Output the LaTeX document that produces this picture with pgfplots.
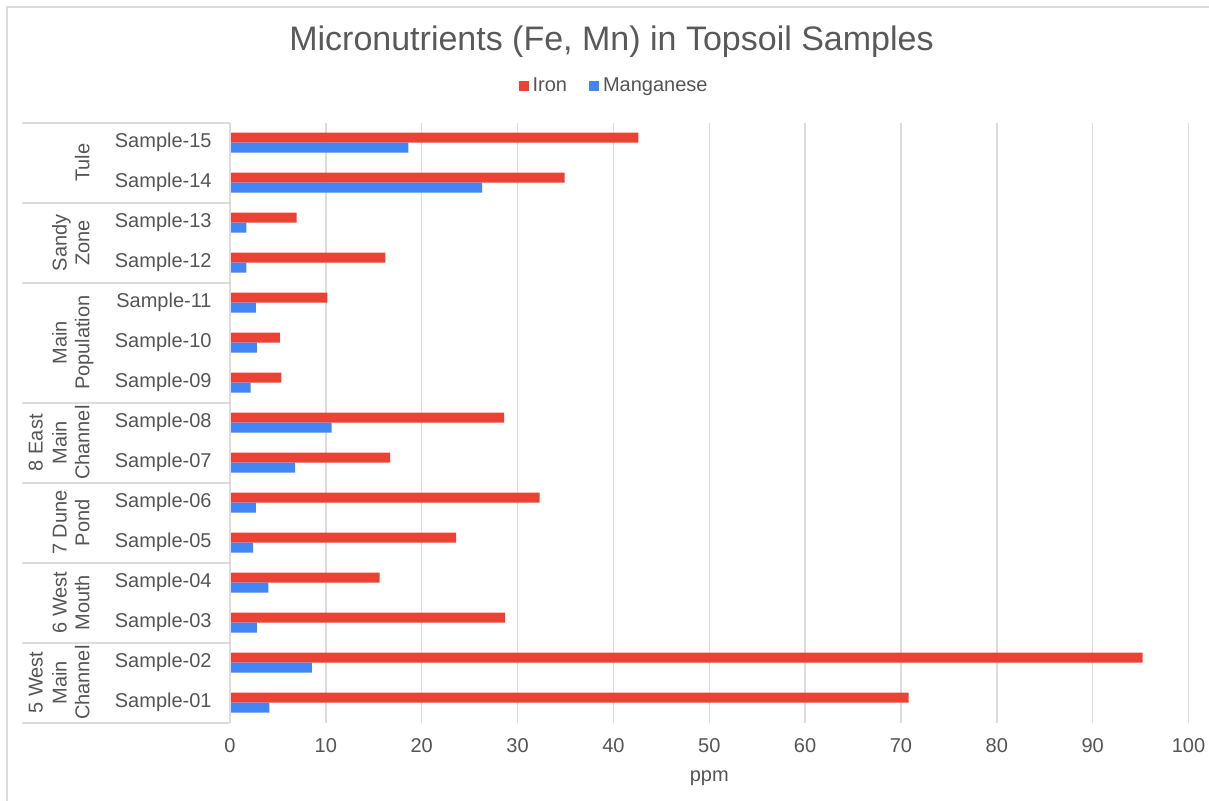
\documentclass[border=0pt]{standalone}
\usepackage{fontspec}
\setmainfont{Liberation Sans}
\usepackage{pgfplots}
\pgfplotsset{compat=1.18}
\definecolor{ironc}{HTML}{EA4335}
\definecolor{mnc}{HTML}{4285F4}
\definecolor{gridc}{HTML}{DCDCDC}
\definecolor{txt}{HTML}{555555}
\definecolor{ttl}{HTML}{595959}
\begin{document}
\begin{tikzpicture}
\useasboundingbox (0,0) rectangle (604.5pt,400.5pt);
\fill[white] (0,0) rectangle (604.5pt,400.5pt);
\draw[gridc, line width=0.9pt] (3.4pt,0) -- (3.4pt,397.1pt) -- (604.5pt,397.1pt);
\node[anchor=base, font=\fontsize{17}{20}\selectfont, text=ttl, inner sep=0pt] at (305.75pt,375pt) {Micronutrients (Fe, Mn) in Topsoil Samples};
\begin{axis}[
  at={(115pt,39.15pt)}, anchor=south west,
  scale only axis, width=479.25pt, height=300pt,
  xbar, bar width=5pt,
  xmin=0, xmax=100, ymin=0.5, ymax=15.5,
  xtick={0,10,...,100},
  ytick={1,...,15},
  yticklabels={Sample-01,Sample-02,Sample-03,Sample-04,Sample-05,Sample-06,Sample-07,Sample-08,Sample-09,Sample-10,Sample-11,Sample-12,Sample-13,Sample-14,Sample-15},
  axis line style={draw=none},
  major tick length=0pt,
  xmajorgrids, grid style={gridc, line width=0.75pt},
  tick label style={font=\fontsize{10}{12}\selectfont, text=txt},
  /pgf/number format/assume math mode=true,
  xticklabel style={anchor=north, inner sep=0pt, yshift=-7.6pt},
  yticklabel style={anchor=east, inner sep=0pt, xshift=-9pt},
  xlabel={ppm},
  xlabel style={at={(axis description cs:0.5,0)}, anchor=base, inner sep=0pt, yshift=-29.6pt, font=\fontsize{10}{12}\selectfont, text=txt},
  clip=false,
  legend columns=2,
  legend style={at={(0.4017,1.0612)}, anchor=center, draw=none, fill=none, inner sep=0pt,
    font=\fontsize{10}{12}\selectfont, text=txt,
    /tikz/every even column/.append style={column sep=9pt}},
  legend image code/.code={\fill[#1] (0pt,-2.6pt) rectangle (5pt,2.6pt);},
]
\addplot[draw=none, fill=ironc, bar shift=2.5pt] coordinates {
 (70.8,1) (95.2,2) (28.7,3) (15.6,4) (23.6,5) (32.3,6) (16.7,7) (28.6,8)
 (5.35,9) (5.2,10) (10.15,11) (16.2,12) (6.95,13) (34.9,14) (42.6,15)};
\addplot[draw=none, fill=mnc, bar shift=-2.5pt] coordinates {
 (4.1,1) (8.55,2) (2.8,3) (4.0,4) (2.4,5) (2.7,6) (6.8,7) (10.6,8)
 (2.15,9) (2.8,10) (2.7,11) (1.7,12) (1.7,13) (26.3,14) (18.6,15)};
\legend{Iron,Manganese}
\draw[gridc, line width=0.9pt] (axis cs:0,0.5) -- (axis cs:0,15.5);
\pgfplotsinvokeforeach{0.5,2.5,4.5,6.5,8.5,11.5,13.5,15.5}{
  \draw[gridc, line width=0.9pt] (axis cs:-21.7,#1) -- (axis cs:0,#1);
}
\tikzset{grp/.style={rotate=90, anchor=base, inner sep=0pt, font=\fontsize{10}{12}\selectfont, text=txt}}
\node[grp] at (axis cs:-19.54,1.5) {5 West};
\node[grp] at (axis cs:-17.04,1.5) {Main};
\node[grp] at (axis cs:-14.68,1.5) {Channel};
\node[grp] at (axis cs:-17.04,3.5) {6 West};
\node[grp] at (axis cs:-14.68,3.5) {Mouth};
\node[grp] at (axis cs:-17.04,5.5) {7 Dune};
\node[grp] at (axis cs:-14.68,5.5) {Pond};
\node[grp] at (axis cs:-19.54,7.5) {8 East};
\node[grp] at (axis cs:-17.04,7.5) {Main};
\node[grp] at (axis cs:-14.68,7.5) {Channel};
\node[grp] at (axis cs:-17.04,10) {Main};
\node[grp] at (axis cs:-14.68,10) {Population};
\node[grp] at (axis cs:-17.04,12.5) {Sandy};
\node[grp] at (axis cs:-14.68,12.5) {Zone};
\node[grp] at (axis cs:-14.68,14.5) {Tule};
\end{axis}
\end{tikzpicture}
\end{document}
